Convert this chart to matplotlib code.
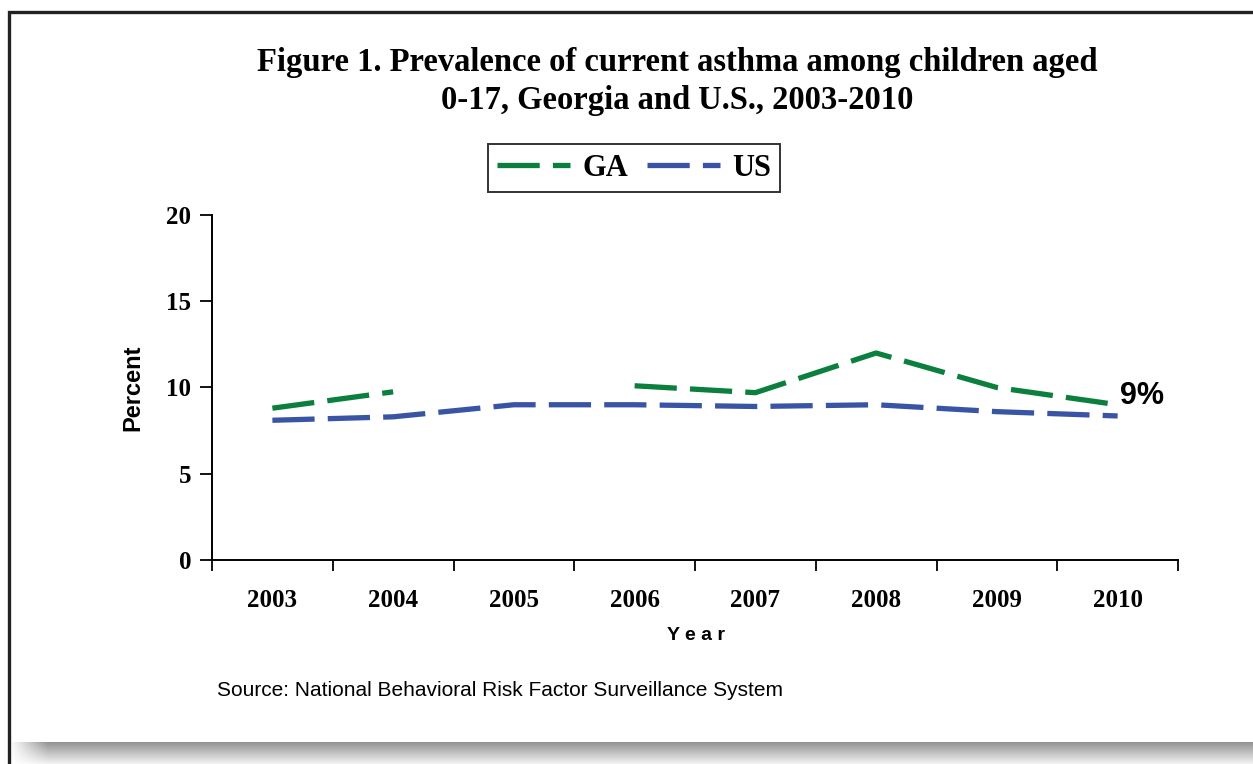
import numpy as np
import matplotlib
matplotlib.use('Agg')
import matplotlib.pyplot as plt
from matplotlib.patches import Rectangle
from matplotlib.lines import Line2D

years = ['2003', '2004', '2005', '2006', '2007', '2008', '2009', '2010']
ga = [8.8, 9.75, np.nan, 10.1, 9.7, 12.0, 10.0, 9.0]
us = [8.1, 8.3, 9.0, 9.0, 8.9, 9.0, 8.6, 8.35]
yticks = [0, 5, 10, 15, 20]

green = '#0b7f3e'
blue = '#3a54a5'
serif = 'Liberation Serif'
sans = 'Liberation Sans'

W, H = 1253, 764
fig = plt.figure(figsize=(W / 100, H / 100), dpi=100)
fig.patch.set_facecolor('white')

# shadow strip at the bottom
sh = fig.add_axes([10 / W, 0, 1 - 10 / W, 22 / H])
sh.axis('off')
v = np.linspace(0.58, 0.95, 22)[:, None]
h = np.clip(np.linspace(0, 1, 1243) / 0.03, 0, 1)[None, :]
g = 1 - (1 - v) * h
img = np.dstack([g, g, g])
sh.imshow(img, aspect='auto', extent=[0, 1, 0, 1], interpolation='bilinear')
sh.set_xlim(0, 1)
sh.set_ylim(0, 1)

# outer frame
fig.patches.append(Rectangle((8.5 / W, -0.05), 1.1, 1 - 11.5 / H + 0.05,
                             transform=fig.transFigure, fill=False,
                             edgecolor='#222222', linewidth=2.4, zorder=10))

ax = fig.add_axes([212 / W, 1 - 560 / H, (1178 - 212) / W, (560 - 215) / H])
x = np.arange(len(years))
ax.plot(x, ga, color=green, linewidth=3.8, dashes=(8, 2.5), dash_capstyle='butt')
ax.plot(x, us, color=blue, linewidth=3.8, dashes=(8, 2.5), dash_capstyle='butt')

ax.set_xlim(-0.5, len(years) - 0.5)
ax.set_ylim(0, 20)
ax.set_yticks(yticks)
ax.set_yticklabels([str(t) for t in yticks], fontfamily=serif, fontweight='bold', fontsize=18)
ax.set_xticks(x)
ax.set_xticklabels(years, fontfamily=serif, fontweight='bold', fontsize=18)
ax.set_xticks(np.arange(-0.5, len(years)), minor=True)
ax.tick_params(axis='x', which='major', length=0, pad=21)
ax.tick_params(axis='x', which='minor', length=8, width=1.3, direction='out')
ax.tick_params(axis='y', length=9, width=1.3, direction='out', pad=6)
for s in ['top', 'right']:
    ax.spines[s].set_visible(False)
for s in ['left', 'bottom']:
    ax.spines[s].set_linewidth(1.4)
ax.set_facecolor('none')

ax.text(len(years) - 1 + 0.02, 9.5, '9%', fontfamily=sans, fontweight='bold',
        fontsize=22, ha='left', va='center')

ax.set_ylabel('Percent', fontfamily=sans, fontweight='bold', fontsize=17, labelpad=16)
fig.text(696 / W, 1 - 636 / H, 'Y e a r', fontfamily=sans, fontweight='bold', fontsize=14,
         ha='center', va='center')

fig.text(677 / W, 1 - 63 / H, 'Figure 1. Prevalence of current asthma among children aged',
         fontfamily=serif, fontweight='bold', fontsize=23.5, ha='center', va='center')
fig.text(677 / W, 1 - 101 / H, '0-17, Georgia and U.S., 2003-2010',
         fontfamily=serif, fontweight='bold', fontsize=23.5, ha='center', va='center')

handles = [Line2D([], [], color=green, linewidth=3.8, dashes=(8, 2.5)),
           Line2D([], [], color=blue, linewidth=3.8, dashes=(8, 2.5))]
leg = fig.legend(handles, ['GA', 'US'], loc='center', bbox_to_anchor=(634 / W, 1 - 168 / H),
                 ncol=2, frameon=True, fancybox=False, handlelength=2.4, columnspacing=0.6,
                 handletextpad=0.4, borderpad=0.3,
                 prop={'family': serif, 'weight': 'bold', 'size': 22})
leg.get_frame().set_edgecolor('black')
leg.get_frame().set_linewidth(1.4)

fig.text(217 / W, 1 - 690 / H, 'Source: National Behavioral Risk Factor Surveillance System',
         fontfamily=sans, fontsize=15, ha='left', va='center')

fig.savefig('out.png', dpi=100)
